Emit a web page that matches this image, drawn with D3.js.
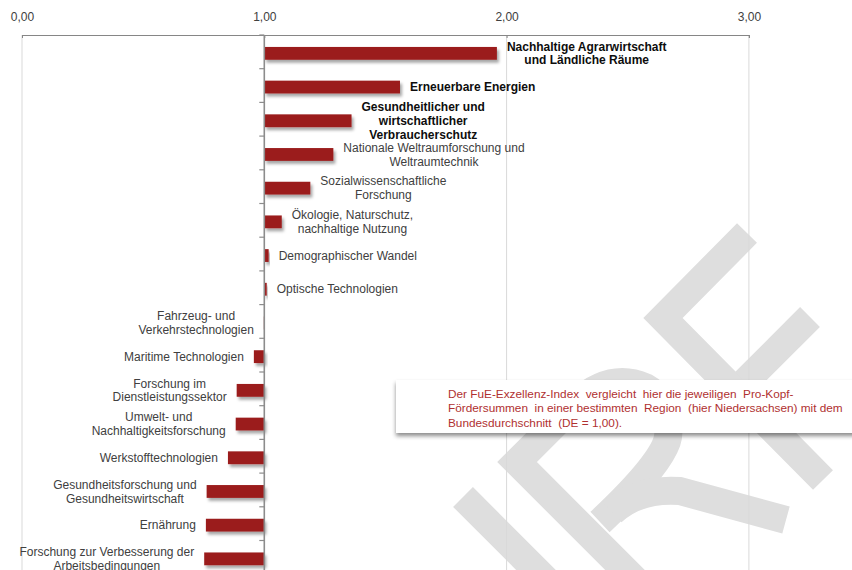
<!DOCTYPE html>
<html>
<head>
<meta charset="utf-8">
<script src="https://cdn.jsdelivr.net/npm/d3@7"></script>
<style>
  body { margin: 0; background: #fff; }
  svg { display: block; font-family: "Liberation Sans", Arial, sans-serif; }
</style>
</head>
<body>
<div id="chart"></div>
<script>
// FuE-Exzellenz-Index Niedersachsen (DE = 1,00)

const categories = [
  "Nachhaltige Agrarwirtschaft|und Ländliche Räume",
  "Erneuerbare Energien",
  "Gesundheitlicher und|wirtschaftlicher|Verbraucherschutz",
  "Nationale Weltraumforschung und|Weltraumtechnik",
  "Sozialwissenschaftliche|Forschung",
  "Ökologie, Naturschutz,|nachhaltige Nutzung",
  "Demographischer Wandel",
  "Optische Technologien",
  "Fahrzeug- und|Verkehrstechnologien",
  "Maritime Technologien",
  "Forschung im|Dienstleistungssektor",
  "Umwelt- und|Nachhaltigkeitsforschung",
  "Werkstofftechnologien",
  "Gesundheitsforschung und|Gesundheitswirtschaft",
  "Ernährung",
  "Forschung zur Verbesserung der|Arbeitsbedingungen"
];
const indexValues = [1.96, 1.56, 1.36, 1.285, 1.19, 1.072, 1.018, 1.01, 0.998,
  0.957, 0.886, 0.882, 0.85, 0.762, 0.759, 0.752];
// the three top fields are printed in bold
const highlighted = categories.slice(0, 3);
const xTicks = [0, 1, 2, 3];
const baseline = 1;
const noteLines = [
  "Der FuE-Exzellenz-Index  vergleicht  hier die jeweiligen  Pro-Kopf-",
  "Fördersummen  in einer bestimmten  Region  (hier Niedersachsen) mit dem",
  "Bundesdurchschnitt  (DE = 1,00)."
];

const width = 852,
    height = 570,
    margin = ({ top: 35, left: 22 }),
    step = 33.7,
    lineH = 13.8,
    gap = 10,
    // bars sit a little below the middle of their slot
    shift = 1.5;

const de = d3.formatLocale({ decimal: ",", thousands: ".", grouping: [3], currency: ["", " €"] });
const fmt = de.format(".2f");

const svg = d3.select("#chart")
  .append("svg")
  .attr("width", width)
  .attr("height", height)
  .attr("viewBox", [0, 0, width, height]);

const defs = svg.append("defs");
defs.append("filter").attr("id", "barShadow")
  .attr("x", "-20%").attr("y", "-50%").attr("width", "150%").attr("height", "250%")
  .append("feDropShadow")
  .attr("dx", 2).attr("dy", 3).attr("stdDeviation", 1.4)
  .attr("flood-color", "#000").attr("flood-opacity", 0.35);
defs.append("filter").attr("id", "boxShadow")
  .attr("x", "-5%").attr("y", "-20%").attr("width", "110%").attr("height", "160%")
  .append("feDropShadow")
  .attr("dx", 0).attr("dy", 3).attr("stdDeviation", 2)
  .attr("flood-color", "#000").attr("flood-opacity", 0.45);

// background watermark (decoration, not data)
const watermark = [
  "M747,233 L663,318 L823,480",
  "M810,317 L745,382",
  "M463,497 L548,582",
  "M640,585 L517,462 L575,404 Q610,372 645,387 Q672,402 668,437 Q664,462 600,522",
  "M612,512 Q638,488 680,491 L786,520"
];
svg.append("g")
  .selectAll("path")
  .data(watermark)
  .join("path")
  .attr("d", d => d)
  .attr("fill", "none")
  .attr("stroke", "#dedede")
  .attr("stroke-width", 28)
  .attr("stroke-linejoin", "miter");

const x = d3.scaleLinear()
  .domain([0, 3])
  .range([margin.left, margin.left + 3 * 242.3]);

const y = d3.scaleBand()
  .domain(categories)
  .range([margin.top, margin.top + categories.length * step])
  .paddingInner(0.62)
  .paddingOuter(0.31);

// vertical gridlines
svg.append("g")
  .selectAll("line")
  .data(xTicks.filter(d => d !== baseline))
  .join("line")
  .attr("x1", d => x(d)).attr("x2", d => x(d))
  .attr("y1", margin.top).attr("y2", height)
  .attr("stroke", "#d9d9d9");

// value axis on top
const xAxis = svg.append("g")
  .attr("transform", `translate(0,${margin.top})`)
  .call(d3.axisTop(x).tickValues(xTicks).tickFormat(fmt).tickSize(-3).tickPadding(14));
xAxis.select(".domain").attr("stroke", "#868686");
xAxis.selectAll(".tick line").attr("stroke", "#868686");
xAxis.selectAll(".tick text")
  .attr("font-size", 12)
  .attr("fill", "#404040")
  .attr("font-family", "Liberation Sans, Arial, sans-serif");

// bars
svg.append("g")
  .selectAll("rect")
  .data(categories)
  .join("rect")
  .attr("x", (d, i) => x(Math.min(indexValues[i], baseline)))
  .attr("width", (d, i) => Math.abs(x(indexValues[i]) - x(baseline)))
  .attr("y", d => y(d) + shift)
  .attr("height", y.bandwidth())
  .attr("fill", "#9b1c1c")
  .attr("filter", "url(#barShadow)");

// category axis at DE = 1,00
const catAxis = svg.append("g");
catAxis.append("line")
  .attr("x1", x(baseline)).attr("x2", x(baseline))
  .attr("y1", margin.top).attr("y2", height)
  .attr("stroke", "#8c8c8c").attr("stroke-width", 1.6);
catAxis.selectAll(".ctick")
  .data(d3.range(categories.length + 1))
  .join("line")
  .attr("class", "ctick")
  .attr("x1", x(baseline) - 5).attr("x2", x(baseline))
  .attr("y1", i => margin.top + i * y.step())
  .attr("y2", i => margin.top + i * y.step())
  .attr("stroke", "#8c8c8c").attr("stroke-width", 1.2);

// data labels next to the bar ends
const labels = svg.append("g")
  .attr("font-size", 12)
  .selectAll("g")
  .data(categories)
  .join("g")
  .attr("font-weight", d => highlighted.includes(d) ? "bold" : "normal")
  .attr("fill", d => highlighted.includes(d) ? "#0d0d0d" : "#404040");

labels.each(function(d, i) {
  const lines = d.split("|");
  const cy = y(d) + y.bandwidth() / 2 + shift;
  const t = d3.select(this).selectAll("text")
    .data(lines)
    .join("text")
    .attr("y", (l, j) => cy + (j - (lines.length - 1) / 2) * lineH)
    .attr("dy", "0.35em")
    .attr("text-anchor", "middle")
    .text(l => l);
  const w = d3.max(t.nodes(), n => n.getComputedTextLength());
  const v = indexValues[i];
  const cx = v >= baseline ? x(v) + gap + w / 2 : x(v) - gap - w / 2;
  t.attr("x", cx);
});

// explanatory note
const note = svg.append("g");
note.append("rect")
  .attr("x", 396).attr("y", 380)
  .attr("width", 480).attr("height", 53)
  .attr("fill", "#fff")
  .attr("filter", "url(#boxShadow)");
note.selectAll("text")
  .data(noteLines)
  .join("text")
  .attr("x", 448)
  .attr("y", (d, i) => 394 + i * 14.3)
  .attr("dy", "0.35em")
  .attr("font-size", 11.8)
  .attr("fill", "#b03030")
  .style("white-space", "pre")
  .text(d => d);
</script>
</body>
</html>
